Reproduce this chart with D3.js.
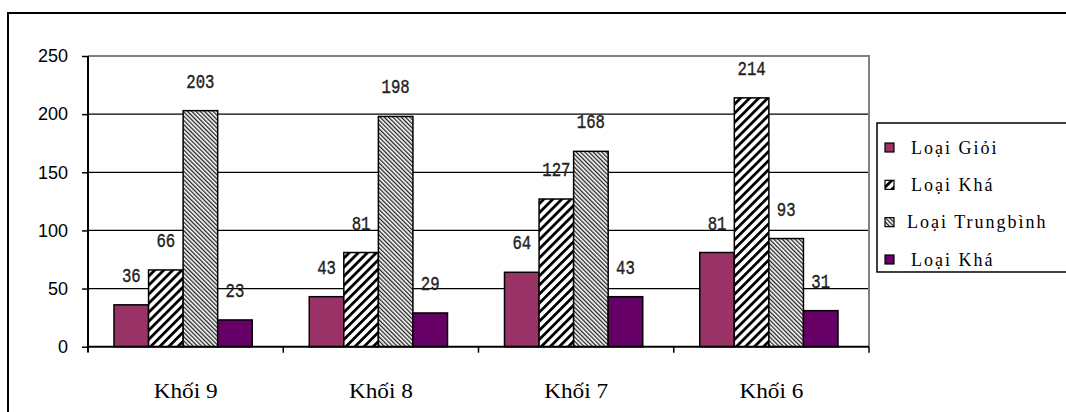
<!DOCTYPE html>
<html>
<head>
<meta charset="utf-8">
<script src="https://cdn.jsdelivr.net/npm/d3@7"></script>
<style>
  html, body { margin: 0; padding: 0; background: #fff; }
  svg { display: block; }
</style>
</head>
<body>
<svg id="chart" width="1066" height="412"></svg>
<script>
// Học lực theo khối
const categories = ["Khối 9", "Khối 8", "Khối 7", "Khối 6"];
const seriesNames = ["Loại Giỏi", "Loại Khá", "Loại Trungbình", "Loại Khá"];
const gioi = [36, 43, 64, 81];
const kha = [66, 81, 127, 214];
const trungBinh = [203, 198, 168, 93];
const yeu = [23, 29, 43, 31];
const yTicks = [0, 50, 100, 150, 200, 250];

const seriesValues = [gioi, kha, trungBinh, yeu];
const seriesFill = ["#993366", "url(#hatchWide)", "url(#hatchFine)", "#660066"];

const svg = d3.select("#chart");
const W = 1066, H = 412;
svg.append("rect").attr("width", W).attr("height", H).attr("fill", "#fff");

// hatch patterns
const defs = svg.append("defs");
const wide = defs.append("pattern")
  .attr("id", "hatchWide").attr("patternUnits", "userSpaceOnUse")
  .attr("width", 6.4).attr("height", 6.4)
  .attr("patternTransform", "rotate(45)");
wide.append("rect").attr("width", 6.4).attr("height", 6.4).attr("fill", "#fff");
wide.append("rect").attr("width", 2.8).attr("height", 6.4).attr("fill", "#000");

const fine = defs.append("pattern")
  .attr("id", "hatchFine").attr("patternUnits", "userSpaceOnUse")
  .attr("width", 3).attr("height", 3)
  .attr("patternTransform", "rotate(-45)");
fine.append("rect").attr("width", 3).attr("height", 3).attr("fill", "#fff");
fine.append("rect").attr("width", 1.3).attr("height", 3).attr("fill", "#222");

// outer frame
svg.append("path").attr("d", `M8,${H} V13 H${W}`)
  .attr("fill", "none").attr("stroke", "#000").attr("stroke-width", 2);

const plot = { left: 88, right: 869, top: 56, bottom: 346.7 };

const x0 = d3.scaleBand().domain(categories).range([plot.left, plot.right]).padding(0);
const x1 = d3.scaleBand().domain(d3.range(seriesNames.length))
  .range([26, x0.bandwidth() - 31]).padding(0);
const y = d3.scaleLinear().domain([0, 250]).range([plot.bottom, plot.top]);

// gridlines
svg.append("g").selectAll("line")
  .data(yTicks.filter(v => v > 0 && v < 250))
  .join("line")
  .attr("x1", plot.left).attr("x2", plot.right)
  .attr("y1", d => y(d)).attr("y2", d => y(d))
  .attr("stroke", "#000").attr("stroke-width", 1.3);

// plot border top/right
svg.append("path")
  .attr("d", `M${plot.left},${y(250)} H${plot.right} V${plot.bottom}`)
  .attr("fill", "none").attr("stroke", "#808080").attr("stroke-width", 2);

// bars
const groups = svg.append("g").selectAll("g")
  .data(categories)
  .join("g")
  .attr("transform", d => `translate(${x0(d)},0)`);

groups.selectAll("rect")
  .data((c, ci) => seriesValues.map((vals, si) => ({ si, v: vals[ci] })))
  .join("rect")
  .attr("x", d => x1(d.si))
  .attr("y", d => y(d.v))
  .attr("width", x1.bandwidth())
  .attr("height", d => y(0) - y(d.v))
  .attr("fill", d => seriesFill[d.si])
  .attr("stroke", "#000").attr("stroke-width", 1.5);

// value labels
groups.selectAll("text")
  .data((c, ci) => seriesValues.map((vals, si) => ({ si, v: vals[ci] })))
  .join("text")
  .attr("transform", d => `translate(${x1(d.si) + x1.bandwidth() / 2},${y(d.v) - 23}) scale(1,1.3)`)
  .attr("text-anchor", "middle")
  .attr("font-family", "'Liberation Mono', monospace")
  .attr("font-size", 15)
  .attr("stroke", "#222").attr("stroke-width", 0.3)
  .attr("fill", "#222")
  .attr("textLength", d => String(d.v).length * 9.4)
  .attr("lengthAdjust", "spacingAndGlyphs")
  .text(d => d.v);

// y axis
const yAxis = svg.append("g")
  .attr("transform", `translate(${plot.left},0)`)
  .call(d3.axisLeft(y).tickValues(yTicks).tickSize(6).tickPadding(14).tickSizeOuter(0));
yAxis.select(".domain").attr("stroke", "#000").attr("stroke-width", 2)
  .attr("d", `M0,${plot.top}V${plot.bottom + 5}`);
yAxis.selectAll(".tick line").attr("stroke", "#000").attr("stroke-width", 1.5);
yAxis.selectAll(".tick text")
  .attr("font-family", "'Liberation Sans', Arial, sans-serif")
  .attr("font-size", 18)
  .attr("fill", "#000");

// x axis
svg.append("line")
  .attr("x1", plot.left).attr("x2", plot.right)
  .attr("y1", plot.bottom).attr("y2", plot.bottom)
  .attr("stroke", "#000").attr("stroke-width", 2);
const bounds = categories.map(c => x0(c)).concat([x0.range()[1]]);
svg.append("g").selectAll("line")
  .data(bounds)
  .join("line")
  .attr("x1", d => d).attr("x2", d => d)
  .attr("y1", plot.bottom).attr("y2", plot.bottom + 6)
  .attr("stroke", "#000").attr("stroke-width", 1.5);
svg.append("g").selectAll("text")
  .data(categories)
  .join("text")
  .attr("x", d => x0(d) + x0.bandwidth() / 2)
  .attr("y", 398)
  .attr("text-anchor", "middle")
  .attr("font-family", "'Liberation Serif', 'Times New Roman', serif")
  .attr("font-size", 20)
  .attr("fill", "#000")
  .attr("textLength", 64)
  .attr("lengthAdjust", "spacingAndGlyphs")
  .text(d => d);

// legend
const legend = svg.append("g");
legend.append("path")
  .attr("d", `M${W + 5},123 H877 V272 H${W + 5}`)
  .attr("fill", "none").attr("stroke", "#000").attr("stroke-width", 1.5);
const rowY = d3.scalePoint().domain(d3.range(seriesNames.length)).range([148, 260]);
const items = legend.selectAll("g")
  .data(seriesNames.map((name, i) => ({ name, i })))
  .join("g")
  .attr("transform", d => `translate(885,${rowY(d.i)})`);
items.append("rect")
  .attr("x", 0).attr("y", -5).attr("width", 9).attr("height", 9)
  .attr("fill", d => seriesFill[d.i])
  .attr("stroke", "#000").attr("stroke-width", 1.2);
items.append("text")
  .attr("x", d => d.i === 2 ? 22 : 26)
  .attr("y", 5.5)
  .attr("font-family", "'Liberation Serif', 'Times New Roman', serif")
  .attr("font-size", 18)
  .attr("fill", "#000")
  .attr("letter-spacing", 2)
  .text(d => d.name);
</script>
</body>
</html>
